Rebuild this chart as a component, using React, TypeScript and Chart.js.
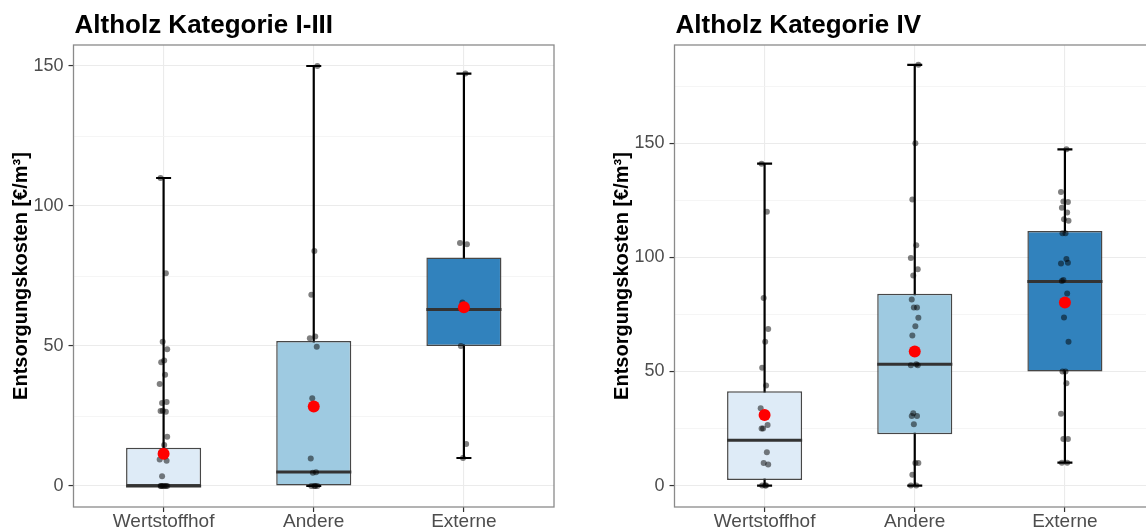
import React, { useEffect, useRef } from "react";
import { Chart, registerables } from "chart.js";

Chart.register(...registerables);

// ---------- data ----------
const categories = ["Wertstoffhof", "Andere", "Externe"];
const boxColors = ["#deebf7", "#9ecae1", "#3182bd"];

// Panel 1: Altholz Kategorie I-III
const title1 = "Altholz Kategorie I-III";
const q1_1 = [0, 0, 50];
const median_1 = [0, 5, 63];
const q3_1 = [13.7, 51.8, 81.6];
const whiskerMin_1 = [0, 0, 10];
const whiskerMax_1 = [110, 150, 147.3];
const mean_1 = [11.5, 28.4, 63.8];
const points1_W = [110, 76, 51.5, 48.8, 44.8, 44.2, 39.7, 36.4, 30, 29.6, 26.8, 26.5, 26.9, 17.6, 14.6, 12, 10.5, 9.5, 9, 3.5, 0, 0, 0, 0, 0, 0];
const points1_A = [150, 83.9, 68.3, 53.4, 52.8, 49.7, 31.3, 9.8, 4.9, 4.7, 0, 0, 0, 0];
const points1_E = [147.3, 86.8, 86.3, 65.5, 50, 15, 10];
const yMin1 = -7.5;
const yMax1 = 157.5;
const yTicks1 = [0, 25, 50, 75, 100, 125, 150];

// Panel 2: Altholz Kategorie IV
const title2 = "Altholz Kategorie IV";
const q1_2 = [2.4, 22.5, 50];
const median_2 = [19.8, 53.1, 89.4];
const q3_2 = [41.3, 84.0, 111.5];
const whiskerMin_2 = [0, 0, 10];
const whiskerMax_2 = [141, 184.3, 147.3];
const mean_2 = [30.9, 58.7, 80.2];
const points2_W = [141, 120, 82.2, 68.6, 63, 51.6, 43.8, 33.9, 26.5, 25, 25, 14.6, 9.9, 9.2, 0, 0, 0];
const points2_A = [184.3, 150, 125.3, 105.3, 99.7, 94.8, 92, 81.5, 78, 78, 73.5, 69.8, 65.7, 53.1, 52.7, 52.7, 31.7, 30.5, 30.5, 26.9, 9.9, 9.9, 4.7, 0, 0];
const points2_E = [147.3, 128.6, 124.2, 124.4, 121.7, 119.6, 116.7, 116, 110.5, 110.5, 99.2, 97.3, 97.6, 90, 89.6, 84.1, 73.6, 63, 50, 50, 44.8, 31.4, 20.4, 20.4, 10, 10];
const yMin2 = -9.4;
const yMax2 = 193;
const yTicks2 = [0, 25, 50, 75, 100, 125, 150, 175];

const yTitle = "Entsorgungskosten [€/m³]";

// ---------- styling ----------
const FONT = '"Liberation Sans", Arial, sans-serif';
const JITTER = [-0.02, 0.015, -0.006, 0.024, 0.004, -0.016, 0.01, -0.026, 0.02, -0.01];
const CAP = 0.1;

type Panel = {
  title: string;
  q1: number[];
  med: number[];
  q3: number[];
  wMin: number[];
  wMax: number[];
  mean: number[];
  points: number[][];
  yMin: number;
  yMax: number;
  yTicks: number[];
};

const panel1: Panel = {
  title: title1, q1: q1_1, med: median_1, q3: q3_1, wMin: whiskerMin_1, wMax: whiskerMax_1,
  mean: mean_1, points: [points1_W, points1_A, points1_E], yMin: yMin1, yMax: yMax1, yTicks: yTicks1,
};
const panel2: Panel = {
  title: title2, q1: q1_2, med: median_2, q3: q3_2, wMin: whiskerMin_2, wMax: whiskerMax_2,
  mean: mean_2, points: [points2_W, points2_A, points2_E], yMin: yMin2, yMax: yMax2, yTicks: yTicks2,
};

const BOX_INDEX = 2;

function makePlugin(p: Panel) {
  return {
    id: "boxExtras",
    beforeDatasetsDraw(chart: any) {
      const { ctx, scales } = chart;
      const x = scales.x, y = scales.y;
      ctx.save();
      ctx.strokeStyle = "#000";
      ctx.lineWidth = 2.2;
      p.wMin.forEach((mn: number, i: number) => {
        const cx = x.getPixelForValue(i + 1);
        const hw = Math.abs(x.getPixelForValue(i + 1 + CAP / 2) - cx);
        const y0 = y.getPixelForValue(mn);
        const y1 = y.getPixelForValue(p.wMax[i]);
        ctx.beginPath();
        ctx.moveTo(cx, y0);
        ctx.lineTo(cx, y1);
        ctx.moveTo(cx - hw, y0);
        ctx.lineTo(cx + hw, y0);
        ctx.moveTo(cx - hw, y1);
        ctx.lineTo(cx + hw, y1);
        ctx.stroke();
      });
      ctx.restore();
    },
    afterDatasetDraw(chart: any, args: any) {
      if (args.index !== BOX_INDEX) return;
      const { ctx, scales } = chart;
      const y = scales.y;
      const meta = chart.getDatasetMeta(BOX_INDEX);
      ctx.save();
      ctx.strokeStyle = "#333333";
      ctx.lineWidth = 3;
      p.med.forEach((m: number, i: number) => {
        const bar = meta.data[i];
        const ym = y.getPixelForValue(m);
        ctx.beginPath();
        ctx.moveTo(bar.x - bar.width / 2, ym);
        ctx.lineTo(bar.x + bar.width / 2, ym);
        ctx.stroke();
      });
      ctx.restore();
    },
    afterDatasetsDraw(chart: any) {
      const { ctx, chartArea } = chart;
      ctx.save();
      ctx.strokeStyle = "#8a8a8a";
      ctx.lineWidth = 1.3;
      ctx.strokeRect(chartArea.left, chartArea.top, chartArea.right - chartArea.left, chartArea.bottom - chartArea.top);
      ctx.restore();
    },
    afterDraw(chart: any) {
      const { ctx, chartArea } = chart;
      ctx.save();
      ctx.fillStyle = "#000";
      ctx.font = `bold 26px ${FONT}`;
      ctx.textBaseline = "alphabetic";
      ctx.textAlign = "left";
      ctx.fillText(p.title, chartArea.left + 1, 33);
      ctx.restore();
    },
  };
}

function BoxPanel({ panel, left }: { panel: Panel; left: number }) {
  const ref = useRef<HTMLCanvasElement | null>(null);
  useEffect(() => {
    if (!ref.current) return;
    const p = panel;
    const jitterPts: { x: number; y: number }[] = [];
    p.points.forEach((arr, ci) => {
      arr.forEach((v, k) => {
        jitterPts.push({ x: ci + 1 + JITTER[(k + ci * 3) % JITTER.length], y: v });
      });
    });
    const chart = new Chart(ref.current, {
      type: "bar",
      data: {
        datasets: [
          {
            type: "scatter",
            data: p.mean.map((m, i) => ({ x: i + 1, y: m })),
            backgroundColor: "#ff0000",
            borderWidth: 0,
            pointRadius: 6,
            order: 0,
          } as any,
          {
            type: "scatter",
            data: jitterPts,
            backgroundColor: "rgba(0,0,0,0.5)",
            borderWidth: 0,
            pointRadius: 3,
            order: 1,
          } as any,
          {
            type: "bar",
            data: p.q1.map((a, i) => ({ x: i + 1, y: [a, p.q3[i]] })),
            backgroundColor: boxColors,
            borderColor: "rgba(51,51,51,0.9)",
            borderWidth: 1.5,
            borderSkipped: false,
            categoryPercentage: 0.5,
            barPercentage: 1,
            order: 2,
          } as any,
        ],
      },
      options: {
        responsive: false,
        animation: false,
        events: [],
        layout: { padding: { left: 0, top: 45, right: 16, bottom: 0 } },
        plugins: {
          legend: { display: false },
          tooltip: { enabled: false },
          title: { display: false },
        },
        scales: {
          x: {
            type: "linear",
            min: 0.4,
            max: 3.6,
            offset: false,
            afterBuildTicks: (scale: any) => {
              scale.ticks = categories.map((_, i) => ({ value: i + 1 }));
            },
            afterFit: (scale: any) => {
              scale.height = 24;
            },
            ticks: {
              callback: (v: any) => categories[Math.round(Number(v)) - 1] ?? "",
              color: "#4d4d4d",
              font: { family: FONT, size: 19, lineHeight: 1 },
              padding: 0,
              maxRotation: 0,
              autoSkip: false,
            },
            grid: {
              offset: false,
              color: "#ebebeb",
              lineWidth: 1.1,
              drawTicks: true,
              tickLength: 5,
              tickColor: "#333333",
              tickWidth: 1.2,
            },
            border: { display: false },
          },
          y: {
            type: "linear",
            min: p.yMin,
            max: p.yMax,
            afterBuildTicks: (scale: any) => {
              scale.ticks = p.yTicks.map((v) => ({ value: v }));
            },
            afterFit: (scale: any) => {
              scale.width = 73.5;
            },
            ticks: {
              callback: (v: any) => (Number(v) % 50 === 0 ? String(v) : ""),
              color: "#4d4d4d",
              font: { family: FONT, size: 18 },
              padding: 5,
              autoSkip: false,
            },
            grid: {
              color: (c: any) => (c.tick && c.tick.value % 50 === 0 ? "#ebebeb" : "#f3f3f3"),
              lineWidth: (c: any) => (c.tick && c.tick.value % 50 === 0 ? 1.1 : 0.8),
              drawTicks: true,
              tickLength: 5,
              tickColor: (c: any) => (c.tick && c.tick.value % 50 === 0 ? "#333333" : "rgba(0,0,0,0)"),
              tickWidth: 1.2,
            },
            border: { display: false },
            title: {
              display: true,
              text: yTitle,
              color: "#000",
              font: { family: FONT, size: 20, weight: "bold" },
              padding: { top: 9, bottom: 0 },
            },
          },
        },
      } as any,
      plugins: [makePlugin(p)],
    });
    return () => chart.destroy();
  }, [panel]);
  return (
    <div style={{ position: "absolute", left, top: 0, width: 570, height: 531 }}>
      <canvas ref={ref} width={570} height={531} />
    </div>
  );
}

export default function App() {
  return (
    <div
      style={{
        position: "fixed",
        left: 0,
        top: 0,
        width: 1146,
        height: 531,
        overflow: "hidden",
        background: "#ffffff",
      }}
    >
      <BoxPanel panel={panel1} left={0} />
      <BoxPanel panel={panel2} left={601} />
    </div>
  );
}
